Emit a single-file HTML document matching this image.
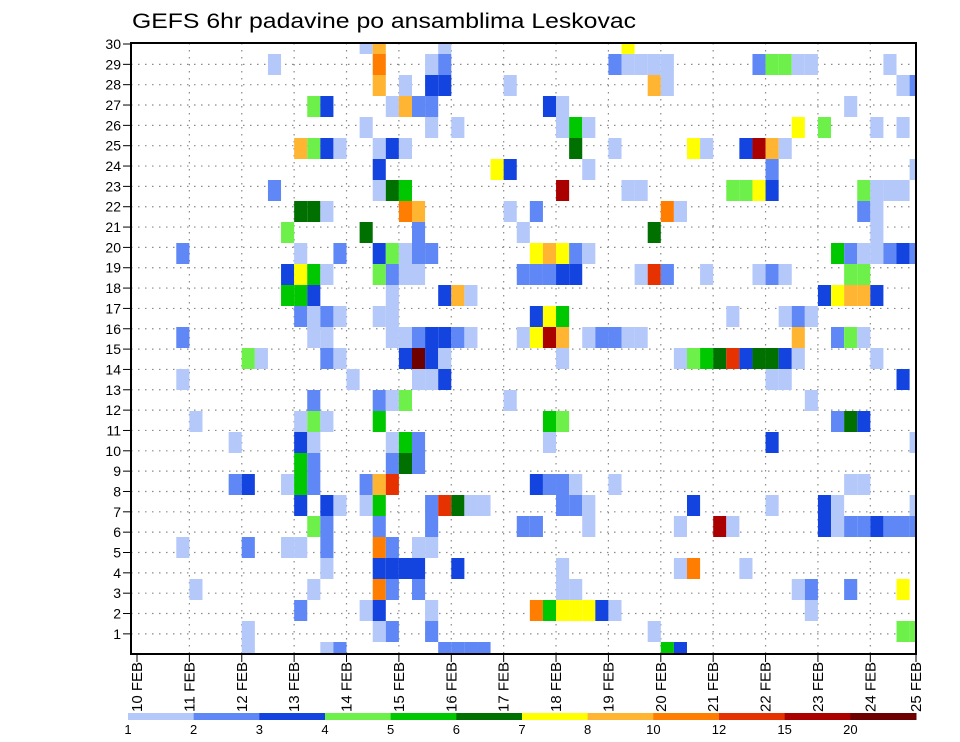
<!DOCTYPE html>
<html><head><meta charset="utf-8"><style>
html,body{margin:0;padding:0;background:#fff;}
svg{display:block;font-family:"Liberation Sans",sans-serif;}
</style></head><body>
<svg id="chart" width="960" height="742" viewBox="0 0 960 742" xmlns="http://www.w3.org/2000/svg">
<defs><clipPath id="plotclip"><rect x="131" y="43" width="785" height="611"/></clipPath></defs>
<rect x="0" y="0" width="960" height="742" fill="#fff"/>
<text x="132" y="28" font-size="21" textLength="504" lengthAdjust="spacingAndGlyphs" fill="#000">GEFS 6hr padavine po ansamblima Leskovac</text>
<g id="grid"></g>
<g id="cells" clip-path="url(#plotclip)"></g>
<g id="axes"></g>
<g id="colorbar"></g>
</svg>
<script>
// ---- data ----
const dayLabels = ["10 FEB","11 FEB","12 FEB","13 FEB","14 FEB","15 FEB","16 FEB","17 FEB","18 FEB","19 FEB","20 FEB","21 FEB","22 FEB","23 FEB","24 FEB","25 FEB"];
const memberTicks = [1,2,3,4,5,6,7,8,9,10,11,12,13,14,15,16,17,18,19,20,21,22,23,24,25,26,27,28,29,30];
const levelBounds = [1,2,3,4,5,6,7,8,10,12,15,20];
const levelLabels = ["1","2","3","4","5","6","7","8","10","12","15","20"];
const levelColors = ["#b4c8fa","#5f87f5","#1444e0","#6ef04a","#00c800","#007000","#ffff00","#ffb432","#ff7d00","#e63200","#aa0000","#6e0000"];
// [member row, 6-hourly step index, precipitation mm]
const cells = [
[30,17,1.5],[30,18,9],[30,23,1.5],[30,37,7.5],
[29,10,1.5],[29,18,11],[29,22,1.5],[29,23,2.5],[29,36,2.5],[29,37,1.5],[29,38,1.5],[29,39,1.5],[29,40,1.5],[29,47,2.5],[29,48,4.5],[29,49,4.5],[29,50,1.5],[29,51,1.5],[29,57,1.5],
[28,18,9],[28,20,1.5],[28,22,3.5],[28,23,3.5],[28,28,1.5],[28,39,9],[28,40,1.5],[28,58,1.5],[28,59,2.5],
[27,13,4.5],[27,14,3.5],[27,19,1.5],[27,20,9],[27,21,2.5],[27,22,2.5],[27,31,3.5],[27,32,1.5],[27,54,1.5],
[26,17,1.5],[26,22,1.5],[26,24,1.5],[26,32,1.5],[26,33,5.5],[26,34,1.5],[26,50,7.5],[26,52,4.5],[26,56,1.5],[26,58,1.5],
[25,12,9],[25,13,4.5],[25,14,3.5],[25,15,1.5],[25,18,1.5],[25,19,3.5],[25,20,1.5],[25,33,6.5],[25,36,1.5],[25,42,7.5],[25,43,1.5],[25,46,3.5],[25,47,17],[25,48,9],[25,49,1.5],
[24,18,3.5],[24,27,7.5],[24,28,3.5],[24,34,1.5],[24,48,2.5],[24,59,1.5],
[23,10,2.5],[23,18,1.5],[23,19,6.5],[23,20,5.5],[23,32,17],[23,37,1.5],[23,38,1.5],[23,45,4.5],[23,46,4.5],[23,47,7.5],[23,48,3.5],[23,55,4.5],[23,56,1.5],[23,57,1.5],[23,58,1.5],
[22,12,6.5],[22,13,6.5],[22,14,1.5],[22,20,11],[22,21,9],[22,28,1.5],[22,30,2.5],[22,40,11],[22,41,1.5],[22,55,2.5],[22,56,1.5],
[21,11,4.5],[21,17,6.5],[21,21,2.5],[21,29,1.5],[21,39,6.5],[21,56,1.5],
[20,3,2.5],[20,12,1.5],[20,15,2.5],[20,18,3.5],[20,19,4.5],[20,20,1.5],[20,21,2.5],[20,22,2.5],[20,30,7.5],[20,31,9],[20,32,7.5],[20,33,2.5],[20,34,1.5],[20,53,5.5],[20,54,2.5],[20,55,1.5],[20,56,1.5],[20,57,2.5],[20,58,3.5],[20,59,2.5],
[19,11,3.5],[19,12,7.5],[19,13,5.5],[19,14,1.5],[19,18,4.5],[19,19,2.5],[19,20,1.5],[19,21,1.5],[19,29,2.5],[19,30,2.5],[19,31,2.5],[19,32,3.5],[19,33,3.5],[19,38,1.5],[19,39,13.5],[19,40,2.5],[19,43,1.5],[19,47,1.5],[19,48,2.5],[19,49,1.5],[19,54,4.5],[19,55,4.5],
[18,11,5.5],[18,12,5.5],[18,13,3.5],[18,19,1.5],[18,23,3.5],[18,24,9],[18,25,1.5],[18,52,3.5],[18,53,7.5],[18,54,9],[18,55,9],[18,56,3.5],
[17,12,2.5],[17,13,1.5],[17,14,2.5],[17,15,1.5],[17,18,1.5],[17,19,1.5],[17,30,3.5],[17,31,7.5],[17,32,5.5],[17,45,1.5],[17,49,1.5],[17,50,2.5],[17,51,1.5],
[16,3,2.5],[16,13,1.5],[16,14,1.5],[16,19,1.5],[16,20,1.5],[16,21,2.5],[16,22,3.5],[16,23,3.5],[16,24,2.5],[16,25,1.5],[16,29,1.5],[16,30,7.5],[16,31,17],[16,32,9],[16,34,1.5],[16,35,2.5],[16,36,2.5],[16,37,1.5],[16,38,1.5],[16,50,9],[16,53,2.5],[16,54,4.5],[16,55,1.5],
[15,8,4.5],[15,9,1.5],[15,14,2.5],[15,15,1.5],[15,20,3.5],[15,21,22],[15,22,3.5],[15,23,1.5],[15,32,1.5],[15,41,1.5],[15,42,4.5],[15,43,5.5],[15,44,6.5],[15,45,13.5],[15,46,3.5],[15,47,6.5],[15,48,6.5],[15,49,3.5],[15,50,1.5],[15,56,1.5],
[14,3,1.5],[14,16,1.5],[14,21,1.5],[14,22,1.5],[14,23,3.5],[14,48,1.5],[14,49,1.5],[14,58,3.5],
[13,13,2.5],[13,18,2.5],[13,19,1.5],[13,20,4.5],[13,28,1.5],[13,51,1.5],
[12,4,1.5],[12,12,1.5],[12,13,4.5],[12,14,1.5],[12,18,5.5],[12,31,5.5],[12,32,4.5],[12,53,2.5],[12,54,6.5],[12,55,3.5],
[11,7,1.5],[11,12,3.5],[11,13,1.5],[11,19,1.5],[11,20,5.5],[11,21,2.5],[11,31,1.5],[11,48,3.5],[11,59,1.5],
[10,12,5.5],[10,13,2.5],[10,19,2.5],[10,20,6.5],[10,21,2.5],
[9,7,2.5],[9,8,3.5],[9,11,1.5],[9,12,5.5],[9,13,2.5],[9,17,2.5],[9,18,9],[9,19,13.5],[9,30,3.5],[9,31,2.5],[9,32,2.5],[9,33,1.5],[9,36,1.5],[9,54,1.5],[9,55,1.5],
[8,12,3.5],[8,14,3.5],[8,15,1.5],[8,17,1.5],[8,18,5.5],[8,22,2.5],[8,23,13.5],[8,24,6.5],[8,25,1.5],[8,26,1.5],[8,32,2.5],[8,33,2.5],[8,34,1.5],[8,42,3.5],[8,48,1.5],[8,52,3.5],[8,53,1.5],[8,59,1.5],
[7,13,4.5],[7,14,2.5],[7,18,2.5],[7,22,2.5],[7,29,2.5],[7,30,2.5],[7,34,1.5],[7,41,1.5],[7,44,17],[7,45,1.5],[7,52,3.5],[7,53,1.5],[7,54,2.5],[7,55,2.5],[7,56,3.5],[7,57,2.5],[7,58,2.5],[7,59,2.5],
[6,3,1.5],[6,8,2.5],[6,11,1.5],[6,12,1.5],[6,14,2.5],[6,18,11],[6,19,2.5],[6,21,1.5],[6,22,1.5],
[5,14,1.5],[5,18,3.5],[5,19,3.5],[5,20,3.5],[5,21,3.5],[5,24,3.5],[5,32,1.5],[5,41,1.5],[5,42,11],[5,46,1.5],
[4,4,1.5],[4,13,1.5],[4,18,11],[4,19,2.5],[4,21,2.5],[4,32,1.5],[4,33,1.5],[4,50,1.5],[4,51,2.5],[4,54,2.5],[4,58,7.5],
[3,12,2.5],[3,17,1.5],[3,18,3.5],[3,22,1.5],[3,30,11],[3,31,5.5],[3,32,7.5],[3,33,7.5],[3,34,7.5],[3,35,3.5],[3,36,1.5],[3,51,1.5],
[2,8,1.5],[2,18,1.5],[2,19,2.5],[2,22,2.5],[2,39,1.5],[2,58,4.5],[2,59,4.5],
[1,8,1.5],[1,14,1.5],[1,15,2.5],[1,23,2.5],[1,24,2.5],[1,25,2.5],[1,26,2.5],[1,40,5.5],[1,41,3.5]
];

// ---- geometry ----
const NS="http://www.w3.org/2000/svg";
const L=131, R=916, T=43, B=654;
const X0=137, DAY=52.38;
const ROWH=21.0, ROW30C=43.5;
function xDay(d){return X0+DAY*d;}
function xStep(s){return xDay(s/4);}
function yMem(m){return 44+(30-m)*20.34;}
function yCell(m){return ROW30C+(30-m)*ROWH;}
function colorFor(v){let i=0;for(let k=0;k<levelBounds.length;k++){if(v>=levelBounds[k])i=k;}return levelColors[i];}
function mk(tag,attrs,parent){const e=document.createElementNS(NS,tag);for(const k in attrs)e.setAttribute(k,attrs[k]);parent.appendChild(e);return e;}

const grid=document.getElementById('grid');
for(let d=1;d<dayLabels.length-1;d++){
  const ln=mk('line',{x1:xDay(d),x2:xDay(d),y1:T,y2:B,stroke:'#8a8a8a','stroke-width':1.2,'stroke-dasharray':'1.5,5.5'},grid);
  
  
}
for(let m=1;m<30;m++){
  const ln=mk('line',{x1:L,x2:R,y1:yMem(m),y2:yMem(m),stroke:'#8a8a8a','stroke-width':1.2,'stroke-dasharray':'1.5,5.5'},grid);
  
  
}

const cg=document.getElementById('cells');
cells.forEach(c=>{
  const m=c[0], s=c[1], v=c[2];
  const x1=xStep(s), x2=Math.min(xStep(s+1),R);
  const yc=yCell(m);
  const r=mk('rect',{x:x1,y:yc-ROWH/2,width:Math.max(0,x2-x1),height:ROWH,fill:colorFor(v)},cg);
  
  
});

const ax=document.getElementById('axes');
const frame=mk('rect',{x:L,y:T,width:R-L,height:B-T,fill:'none',stroke:'#000','stroke-width':2},ax);


memberTicks.forEach(m=>{
  const y=yMem(m);
  const t=mk('line',{x1:L-8,x2:L,y1:y,y2:y,stroke:'#000','stroke-width':1},ax);
  
  
  const tx=mk('text',{x:L-10,y:y+5,'font-size':14,'text-anchor':'end',fill:'#000'},ax);
  tx.textContent=String(m);
  
  
});
dayLabels.forEach((lab,d)=>{
  const x=Math.min(xDay(d),R);
  const t=mk('line',{x1:x,x2:x,y1:B,y2:B+8,stroke:'#000','stroke-width':1},ax);
  
  
  const tx=mk('text',{transform:'translate('+(x+5)+',712) rotate(-90)','font-size':15,'text-anchor':'start',textLength:50,lengthAdjust:'spacingAndGlyphs',fill:'#000'},ax);
  tx.textContent=lab;
  
  
});

const cb=document.getElementById('colorbar');
const CB0=128, CB1=916, segW=(CB1-CB0)/levelColors.length;
levelColors.forEach((col,i)=>{
  const r=mk('rect',{x:CB0+i*segW,y:713,width:segW+0.5,height:7,fill:col},cb);
  
  
});
levelLabels.forEach((lab,i)=>{
  const tx=mk('text',{x:CB0+i*segW,y:734,'font-size':13,'text-anchor':'middle',fill:'#000'},cb);
  tx.textContent=lab;
  
  
});
</script>
</body></html>
